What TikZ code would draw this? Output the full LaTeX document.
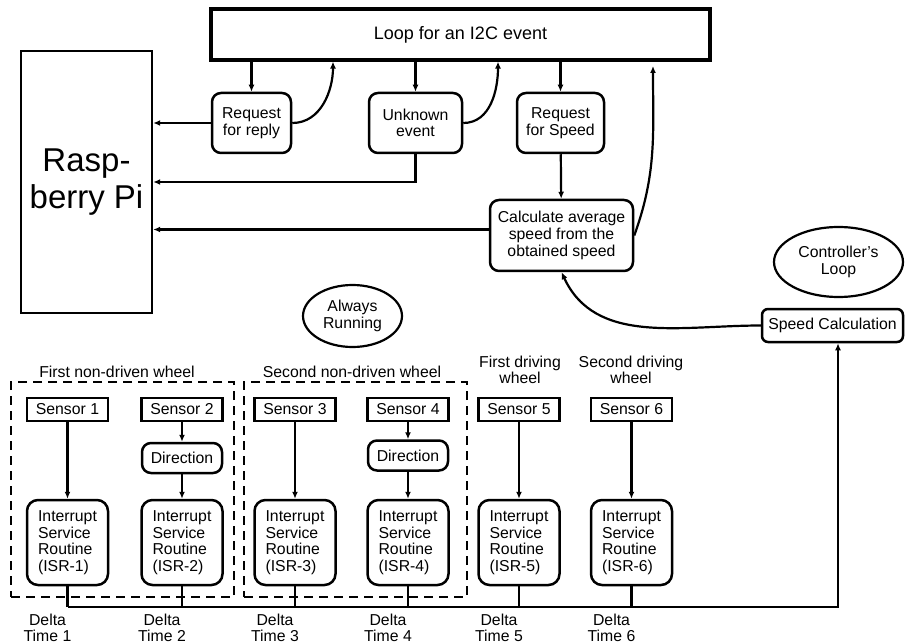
\documentclass[tikz,border=0pt]{standalone}
\usepackage{fontspec}
\setmainfont{Liberation Sans}
\usetikzlibrary{arrows.meta,shapes.geometric}
\begin{document}
\begin{tikzpicture}[x=1pt,y=-1pt,
  every node/.style={font=\fontsize{15.8}{16.6}\selectfont},
  sq/.style={draw,line width=2.4pt,inner sep=0pt,align=center},
  rbox/.style={draw,line width=2.5pt,rounded corners=9pt,inner sep=0pt,align=center},
  sens/.style={draw,line width=2.8pt,minimum width=81pt,minimum height=23pt,inner sep=0pt},
  isr/.style={rbox,rounded corners=11pt,minimum width=81pt,minimum height=85pt,align=left},
  dirbox/.style={rbox,minimum width=80pt,minimum height=30pt},
  oval/.style={draw,ellipse,line width=2.2pt,inner sep=0pt,align=center},
  arr/.style={line width=2.2pt,-{Latex[length=7pt,width=6pt]}},
  ln/.style={line width=2.2pt},
  grp/.style={draw,line width=2.6pt,dash pattern=on 9pt off 6pt,inner sep=0pt},
  lbl/.style={align=center,inner sep=0pt}
]
\useasboundingbox (0,0) rectangle (907,644);

% top part
\node[sq,line width=3.2pt,minimum width=499pt,minimum height=51pt,font=\fontsize{18}{20}\selectfont] (loop) at (460.5,34.5) {Loop for an I2C event};
\node[sq,minimum width=131pt,minimum height=262pt,font=\fontsize{33}{37}\selectfont] (pi) at (86.5,182) {Rasp-\\berry Pi};
\node[rbox,minimum width=79pt,minimum height=60pt] (rfr) at (251.5,123) {Request\\for reply};
\node[rbox,minimum width=93pt,minimum height=60pt] (unk) at (415.5,123) {Unknown\\event};
\node[rbox,minimum width=87pt,minimum height=60pt] (rfs) at (560.5,123) {Request\\for Speed};
\node[rbox,minimum width=143pt,minimum height=71pt] (calc) at (561.5,235.5) {Calculate average\\speed from the\\obtained speed};
\node[oval,minimum width=129pt,minimum height=70pt] (ctrl) at (838.5,262) {Controller's\\Loop};
\node[rbox,rounded corners=6pt,minimum width=141pt,minimum height=33pt] (spd) at (832.5,325.5) {Speed Calculation};
\node[oval,minimum width=99pt,minimum height=62pt] (alw) at (352.5,316) {Always\\Running};
\coordinate (ret3) at (653,66);

\draw[arr] (rfr.north |- loop.south) -- (rfr.north);
\draw[arr] (unk.north |- loop.south) -- (unk.north);
\draw[arr] (rfs.north |- loop.south) -- (rfs.north);
\draw[arr] (rfr.west) -- (rfr.west -| pi.east);
\draw[arr] (rfr.east) to[out=0,in=-90] (333,0 |- loop.south);
\draw[arr] (unk.south) |- (pi.east);
\draw[arr] (unk.east) to[out=0,in=-90] (498,0 |- loop.south);
\draw[arr] (rfs) -- (calc);
\draw[arr] ([yshift=6pt]calc.west) -- ([yshift=6pt]calc.west -| pi.east);
\draw[arr] (calc.east) to[out=70,in=-90] (ret3);
\draw[arr] (spd.west) to[out=180,in=-65] (calc.south);

% bottom part
\node[grp,minimum width=223pt,minimum height=215pt] (g1) at (122.5,489.5) {};
\node[grp,minimum width=223pt,minimum height=215pt] (g2) at (355.5,489.5) {};
\node[lbl] (l1) at (117,372) {First non-driven wheel};
\node[lbl] (l2) at (352,372) {Second non-driven wheel};
\node[lbl] (l5) at (520,370) {First driving\\wheel};
\node[lbl] (l6) at (631,370) {Second driving\\wheel};

\foreach \i/\x in {1/67.5,2/182,3/295,4/408,5/519,6/631.5}{
  \node[sens] (s\i) at (\x,409.5) {Sensor \i};
  \node[isr] (isr\i) at (\x,542.5) {Interrupt\\Service\\Routine\\(ISR-\i)};
  \node[lbl] (dt\i) at (\x-20,628) {Delta\\Time \i};
}
\node[dirbox] (d2) at (182,458) {Direction};
\node[dirbox] (d4) at (408,455.5) {Direction};

\draw[arr] (s1) -- (isr1);
\draw[arr] (s3) -- (isr3);
\draw[arr] (s5) -- (isr5);
\draw[arr] (s6) -- (isr6);
\draw[arr] (s2) -- (d2);
\draw[arr] (d2) -- (isr2);
\draw[arr] (s4) -- (d4);
\draw[arr] (d4) -- (isr4);

\coordinate (busL) at (67.5,607);
\coordinate (busR) at (838,607);
\foreach \i in {1,...,6}{
  \draw[ln] (isr\i.south) -- (isr\i.south |- busL);
}
\draw[arr] (busL) -- (busR) -- (busR |- spd.south);
\end{tikzpicture}
\end{document}
